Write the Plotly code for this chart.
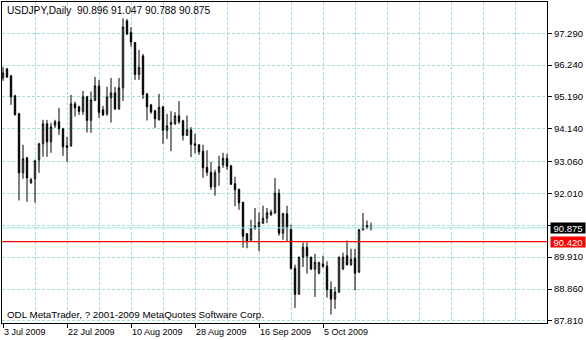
import plotly.graph_objects as go

# ---- data (USDJPY daily) ----
opens = [95.818, 96.115, 95.884, 95.226, 94.633, 92.691, 93.185, 92.362, 92.493, 93.119,
         93.646, 94.304, 93.711, 94.255, 94.370, 94.139, 93.580, 93.580, 94.962, 94.864,
         94.715, 95.193, 94.419, 95.078, 95.555, 94.765, 94.633, 95.160, 95.324, 94.798,
         95.489, 97.695, 97.316, 96.987, 95.933, 96.542, 95.292, 94.929, 94.732, 94.436,
         94.864, 94.090, 94.288, 94.304, 94.567, 94.403, 93.925, 94.106, 93.646, 93.613,
         93.399, 92.872, 92.707, 92.230, 92.707, 92.954, 93.168, 92.921, 92.329, 92.148,
         91.720, 90.683, 90.469, 90.930, 90.897, 91.028, 91.193, 91.308, 91.358, 92.016,
         90.699, 91.341, 90.831, 89.547, 88.691, 89.909, 90.238, 89.909, 89.514, 89.382,
         89.679, 89.613, 88.839, 88.526, 88.757, 89.514, 89.958, 89.662, 89.876, 89.415,
         90.814, 90.946, 90.896]
highs = [96.180, 96.147, 95.917, 95.259, 94.666, 93.613, 93.218, 92.526, 93.119, 93.678,
         94.436, 94.436, 94.337, 94.436, 94.831, 94.172, 93.876, 95.259, 95.038, 94.896,
         95.390, 95.226, 95.367, 95.851, 95.752, 94.896, 95.522, 95.818, 95.522, 95.818,
         97.784, 97.761, 97.487, 97.003, 96.740, 96.608, 95.308, 94.962, 94.765, 95.292,
         94.896, 94.633, 94.722, 94.689, 95.051, 94.436, 94.577, 94.195, 93.975, 93.629,
         93.613, 93.432, 93.053, 92.790, 93.250, 93.349, 93.316, 92.938, 92.559, 92.164,
         91.736, 90.699, 91.144, 91.529, 91.384, 91.605, 91.529, 91.473, 92.516, 92.154,
         91.374, 91.605, 90.979, 89.662, 89.926, 90.396, 90.396, 89.926, 90.024, 89.761,
         89.958, 89.771, 89.112, 88.928, 89.926, 90.057, 90.462, 90.189, 90.179, 90.831,
         91.364, 91.121, 91.047]
lows = [95.719, 95.818, 94.929, 94.584, 91.779, 92.493, 91.736, 92.329, 91.703, 92.691,
        93.218, 93.218, 93.349, 94.172, 93.942, 93.250, 93.053, 93.547, 94.544, 94.600,
        94.600, 94.018, 94.008, 95.061, 94.501, 94.567, 94.567, 94.347, 94.765, 94.765,
        95.061, 97.234, 96.849, 95.752, 95.752, 95.127, 94.413, 94.633, 94.172, 94.419,
        93.646, 93.810, 93.405, 94.271, 94.304, 93.754, 93.909, 93.208, 93.339, 93.283,
        92.526, 92.592, 92.131, 91.934, 92.263, 92.855, 92.790, 92.296, 91.588, 91.473,
        90.222, 90.205, 90.452, 90.814, 90.100, 91.012, 91.035, 91.275, 91.358, 90.617,
        90.485, 90.429, 89.498, 88.237, 88.675, 89.586, 89.366, 89.498, 88.599, 89.350,
        89.563, 88.576, 88.016, 88.204, 88.740, 89.498, 89.629, 89.629, 88.816, 89.399,
        90.781, 90.831, 90.788]
closes = [95.983, 95.851, 95.193, 94.600, 92.691, 93.152, 92.526, 92.460, 93.086, 93.646,
          94.304, 93.711, 94.205, 94.370, 94.139, 93.547, 93.530, 94.962, 94.831, 94.715,
          95.193, 94.419, 95.094, 95.555, 94.683, 94.600, 95.193, 95.324, 94.798, 95.489,
          97.497, 97.267, 97.003, 95.933, 96.164, 95.275, 94.864, 94.699, 94.469, 94.847,
          94.090, 94.238, 94.353, 94.567, 94.370, 93.925, 94.106, 93.629, 93.596, 93.382,
          92.855, 92.707, 92.230, 92.691, 92.888, 93.168, 92.905, 92.312, 92.131, 91.703,
          90.601, 90.419, 90.864, 90.864, 91.061, 91.193, 91.374, 91.390, 92.016, 90.699,
          91.341, 90.864, 89.547, 88.691, 89.909, 90.238, 89.942, 89.514, 89.745, 89.728,
          89.613, 88.839, 88.526, 88.757, 89.909, 89.909, 89.662, 89.843, 89.382, 90.814,
          90.897, 90.880, 90.875]

bar_index = list(range(len(opens)))
date_labels = ["3 Jul 2009", "22 Jul 2009", "10 Aug 2009", "28 Aug 2009", "16 Sep 2009", "5 Oct 2009"]
date_label_bars = [0, 16, 32, 48, 64, 80]
price_ticks = [97.29, 96.24, 95.19, 94.14, 93.06, 92.01, 90.96, 89.91, 88.86, 87.81]
price_tick_text = ["97.290", "96.240", "95.190", "94.140", "93.060", "92.010", "", "89.910", "88.860", "87.810"]
last_price = 90.875
red_level = 90.420
title_text = "USDJPY,Daily  90.896 91.047 90.788 90.875"
footer_text = "ODL MetaTrader, ? 2001-2009 MetaQuotes Software Corp."

# ---- styling ----
FONT = "Liberation Sans, Arial, sans-serif"
GRID = "#a2dcdc"
W, H = 586, 340
ML, MR, MT, MB = 2, 39, 2, 17
PW = W - ML - MR
PH = H - MT - MB

fig = go.Figure(go.Candlestick(
    x=bar_index, open=opens, high=highs, low=lows, close=closes,
    increasing=dict(line=dict(color="black", width=1), fillcolor="white"),
    decreasing=dict(line=dict(color="black", width=1), fillcolor="black"),
    whiskerwidth=0, hoverinfo="skip",
))

fig.update_layout(
    width=W, height=H,
    margin=dict(l=ML, r=MR, t=MT, b=MB, pad=0, autoexpand=False),
    paper_bgcolor="white", plot_bgcolor="white",
    showlegend=False, boxgap=0.5,
    font=dict(family=FONT, size=10, color="black"),
    xaxis=dict(
        type="linear", range=[-0.25, 136], rangeslider=dict(visible=False),
        tickmode="array", tickvals=date_label_bars, ticktext=date_labels,
        tickangle=0, automargin=False,
        ticks="outside", ticklen=4, tickcolor="black", tickwidth=1,
        ticklabelposition="outside right",
        showgrid=True, gridcolor=GRID, griddash="3px,2px", gridwidth=1,
        minor=dict(dtick=8, tick0=0, showgrid=True, gridcolor=GRID, griddash="3px,2px", ticks=""),
        showline=True, linecolor="black", linewidth=1, mirror=True,
        zeroline=False, tickfont=dict(family=FONT, size=9, color="black"),
        fixedrange=True,
    ),
    yaxis=dict(
        side="right", range=[87.74, 98.32], automargin=False,
        tickmode="array", tickvals=price_ticks, ticktext=price_tick_text,
        ticks="outside", ticklen=4, tickcolor="black", tickwidth=1,
        showgrid=True, gridcolor=GRID, griddash="3px,2px", gridwidth=1,
        showline=True, linecolor="black", linewidth=1, mirror=True,
        zeroline=False, tickfont=dict(family=FONT, size=9.5, color="black"),
        fixedrange=True,
    ),
)

fig.add_shape(type="line", xref="paper", yref="y", x0=0, x1=1, y0=last_price, y1=last_price,
              line=dict(color="#a0e6e6", width=1), layer="above")
fig.add_shape(type="line", xref="paper", yref="y", x0=0, x1=1, y0=red_level, y1=red_level,
              line=dict(color="#ff0000", width=1.2), layer="above")

def px_x(p):
    return (p - ML) / PW

def px_y(p):
    return 1 - (p - MT) / PH

fig.add_annotation(text=title_text, xref="paper", yref="paper", x=px_x(5), y=px_y(10.5),
                   xanchor="left", yanchor="middle", showarrow=False,
                   font=dict(family=FONT, size=10.2, color="black"))
fig.add_annotation(text=footer_text, xref="paper", yref="paper", x=px_x(5), y=px_y(314.5),
                   xanchor="left", yanchor="middle", showarrow=False,
                   font=dict(family=FONT, size=9.8, color="black"))
fig.add_annotation(text=f"{last_price:.3f}", xref="paper", yref="y", x=px_x(550), y=last_price,
                   xanchor="left", yanchor="middle", showarrow=False, bgcolor="black",
                   borderpad=0, width=34, height=10,
                   font=dict(family=FONT, size=9.5, color="white"))
fig.add_annotation(text=f"{red_level:.3f}", xref="paper", yref="y", x=px_x(550), y=red_level,
                   xanchor="left", yanchor="middle", showarrow=False, bgcolor="#ff0000",
                   borderpad=0, width=34, height=10,
                   font=dict(family=FONT, size=9.5, color="white"))

fig.write_html("out.html", config=dict(displayModeBar=False, staticPlot=True))
